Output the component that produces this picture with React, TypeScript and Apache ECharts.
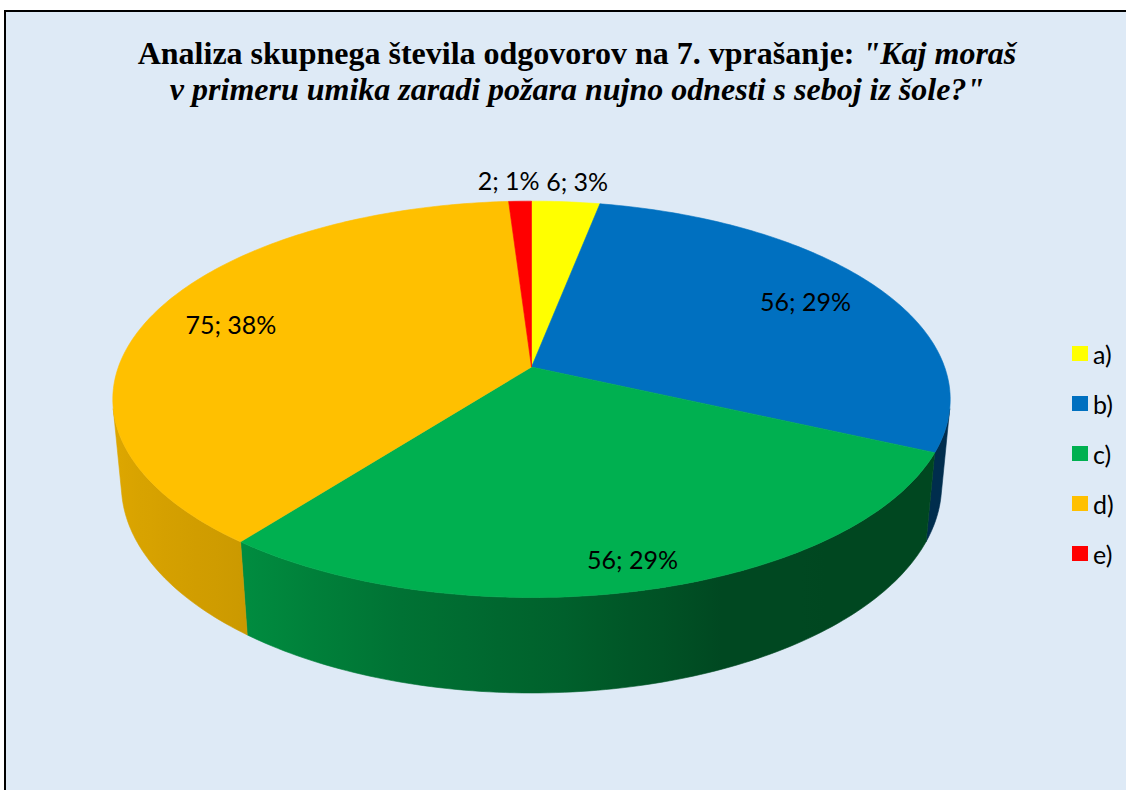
import React, { useEffect, useRef } from "react";
import * as echarts from "echarts";

// ---- data ----
const categories = ["a)", "b)", "c)", "d)", "e)"];
const values = [6, 56, 56, 75, 2];
const colors = ["#FFFF00", "#0070C0", "#00B050", "#FFC000", "#FF0000"];
const titleLine1Bold = "Analiza skupnega števila odgovorov na 7. vprašanje: ";
const titleLine1Italic = "\"Kaj moraš";
const titleLine2Italic = "v primeru umika zaradi požara nujno odnesti s seboj iz šole?\"";

// ---- 3D projection style parameters ----
const CX = 531.5;
const CY = 367;
const SIN_A = 0.467;
const COS_A = 0.884;
const DIST = 5.42;
const FOCAL = 2239;
const THICK = 0.237;
const labelRadius = [1.15, 0.79, 0.88, 0.79, 1.15];
const labelNudge = [7, 0, 0, 0, -10];
const shadeTable: [number, number][] = [
  [-1, 0.87],
  [-0.62, 0.8],
  [-0.3, 0.66],
  [0.07, 0.545],
  [0.4, 0.41],
  [1, 0.4],
];
const FONT = "Lato";
const LABEL_SIZE = 25;
const TITLE_SIZE = 32;

const total = values.reduce((a, b) => a + b, 0);
const startDeg = (i: number) => (360 * values.slice(0, i).reduce((a, b) => a + b, 0)) / total;
const endDeg = (i: number) => (360 * values.slice(0, i + 1).reduce((a, b) => a + b, 0)) / total;

function proj(phiDeg: number, r: number, h: number): [number, number] {
  const p = (phiDeg * Math.PI) / 180;
  const X = r * Math.sin(p);
  const Z = -r * Math.cos(p);
  const Y = -h * THICK;
  const depth = DIST - Y * SIN_A - Z * COS_A;
  return [CX + (FOCAL * X) / depth, CY + (FOCAL * (Z * SIN_A - Y * COS_A)) / depth];
}

function shadeFactor(X: number) {
  for (let k = 0; k < shadeTable.length - 1; k++) {
    const [x0, f0] = shadeTable[k];
    const [x1, f1] = shadeTable[k + 1];
    if (X <= x1) {
      const t = Math.max(0, (X - x0) / (x1 - x0));
      return f0 + (f1 - f0) * t;
    }
  }
  return shadeTable[shadeTable.length - 1][1];
}

function shade(hex: string, f: number) {
  const n = parseInt(hex.slice(1), 16);
  const r = Math.round(((n >> 16) & 255) * f);
  const g = Math.round(((n >> 8) & 255) * f);
  const b = Math.round((n & 255) * f);
  return `rgb(${r},${g},${b})`;
}

const silZ = 1 / (DIST * COS_A);
const silL = (Math.acos(-silZ) * 180) / Math.PI; // ~102
const silR = 360 - silL; // ~258

function wallGradient(color: string) {
  const xL = proj(silR, 1, 0.5)[0];
  const xR = proj(silL, 1, 0.5)[0];
  const stops: any[] = [];
  const N = 40;
  for (let k = 0; k <= N; k++) {
    const phi = silR - ((silR - silL) * k) / N;
    const x = proj(phi, 1, 0.5)[0];
    const off = Math.min(1, Math.max(0, (x - xL) / (xR - xL)));
    stops.push({ offset: off, color: shade(color, shadeFactor(Math.sin((phi * Math.PI) / 180))) });
  }
  return { type: "linear", x: xL, y: 0, x2: xR, y2: 0, global: true, colorStops: stops };
}

function wallItem(params: any) {
  const i = params.dataIndex;
  const s = Math.max(startDeg(i), silL);
  const e = Math.min(endDeg(i), silR);
  if (!(e > s)) return { type: "group", children: [] };
  const n = Math.max(2, Math.ceil(e - s));
  const pts: [number, number][] = [];
  for (let k = 0; k <= n; k++) pts.push(proj(s + ((e - s) * k) / n, 1, 0));
  for (let k = n; k >= 0; k--) pts.push(proj(s + ((e - s) * k) / n, 1, 1));
  const g = wallGradient(colors[i]);
  return {
    type: "polygon",
    shape: { points: pts },
    style: { fill: g, stroke: g, lineWidth: 0.6 },
  };
}

function topItem(i: number) {
  return () => {
    const s = startDeg(i);
    const e = endDeg(i);
    const pts: [number, number][] = [proj(0, 0, 0)];
    const n = Math.max(2, Math.ceil(e - s));
    for (let k = 0; k <= n; k++) pts.push(proj(s + ((e - s) * k) / n, 1, 0));
    const mid = (s + e) / 2;
    const [lx, ly] = proj(mid, labelRadius[i], 0);
    const pct = Math.round((values[i] / total) * 100);
    return {
      type: "group",
      children: [
        {
          type: "polygon",
          shape: { points: pts },
          style: { fill: colors[i], stroke: colors[i], lineWidth: 0.6 },
        },
        {
          type: "text",
          x: lx + labelNudge[i],
          y: ly,
          z2: 50,
          style: {
            text: `${values[i]}; ${pct}%`,
            fill: "#000",
            fontSize: LABEL_SIZE,
            fontFamily: FONT,
            align: "center",
            verticalAlign: "middle",
          },
        },
      ],
    };
  };
}

export default function App() {
  const ref = useRef<HTMLDivElement>(null);
  useEffect(() => {
    if (!ref.current) return;
    const chart = echarts.init(ref.current, null, { renderer: "svg" });
    const series: any[] = [
      {
        type: "custom",
        name: "walls",
        coordinateSystem: "none",
        z: 2,
        silent: true,
        data: values,
        renderItem: wallItem,
      },
    ];
    categories.forEach((name, i) => {
      series.push({
        type: "custom",
        name,
        coordinateSystem: "none",
        z: 3,
        silent: true,
        itemStyle: { color: colors[i] },
        data: [values[i]],
        renderItem: topItem(i),
      });
    });
    chart.setOption({
      animation: false,
      backgroundColor: "#ffffff",
      graphic: [
        {
          type: "rect",
          z: 0,
          silent: true,
          shape: { x: 5, y: 11, width: 1150, height: 800 },
          style: { fill: "#DEEAF6", stroke: "#000000", lineWidth: 2 },
        },
        {
          type: "text",
          z: 1,
          x: 577,
          y: 53,
          style: {
            text: `{b|${titleLine1Bold}}{bi|${titleLine1Italic}}`,
            align: "center",
            verticalAlign: "middle",
            rich: {
              b: { fontFamily: "Liberation Serif", fontWeight: "bold", fontSize: TITLE_SIZE, fill: "#000" },
              bi: {
                fontFamily: "Liberation Serif",
                fontWeight: "bold",
                fontStyle: "italic",
                fontSize: TITLE_SIZE,
                fill: "#000",
              },
            },
          },
        },
        {
          type: "text",
          z: 1,
          x: 577,
          y: 89,
          style: {
            text: titleLine2Italic,
            align: "center",
            verticalAlign: "middle",
            fontFamily: "Liberation Serif",
            fontWeight: "bold",
            fontStyle: "italic",
            fontSize: TITLE_SIZE,
            fill: "#000",
          },
        },
      ],
      legend: {
        data: categories,
        orient: "vertical",
        left: 1067,
        top: 336,
        icon: "rect",
        itemWidth: 16,
        itemHeight: 15,
        itemGap: 25,
        selectedMode: false,
        textStyle: { fontSize: LABEL_SIZE, fontFamily: FONT, color: "#000" },
      },
      series,
    });
    return () => chart.dispose();
  }, []);
  return (
    <div
      ref={ref}
      style={{ position: "fixed", left: 0, top: 0, width: 1126, height: 790 }}
    />
  );
}
